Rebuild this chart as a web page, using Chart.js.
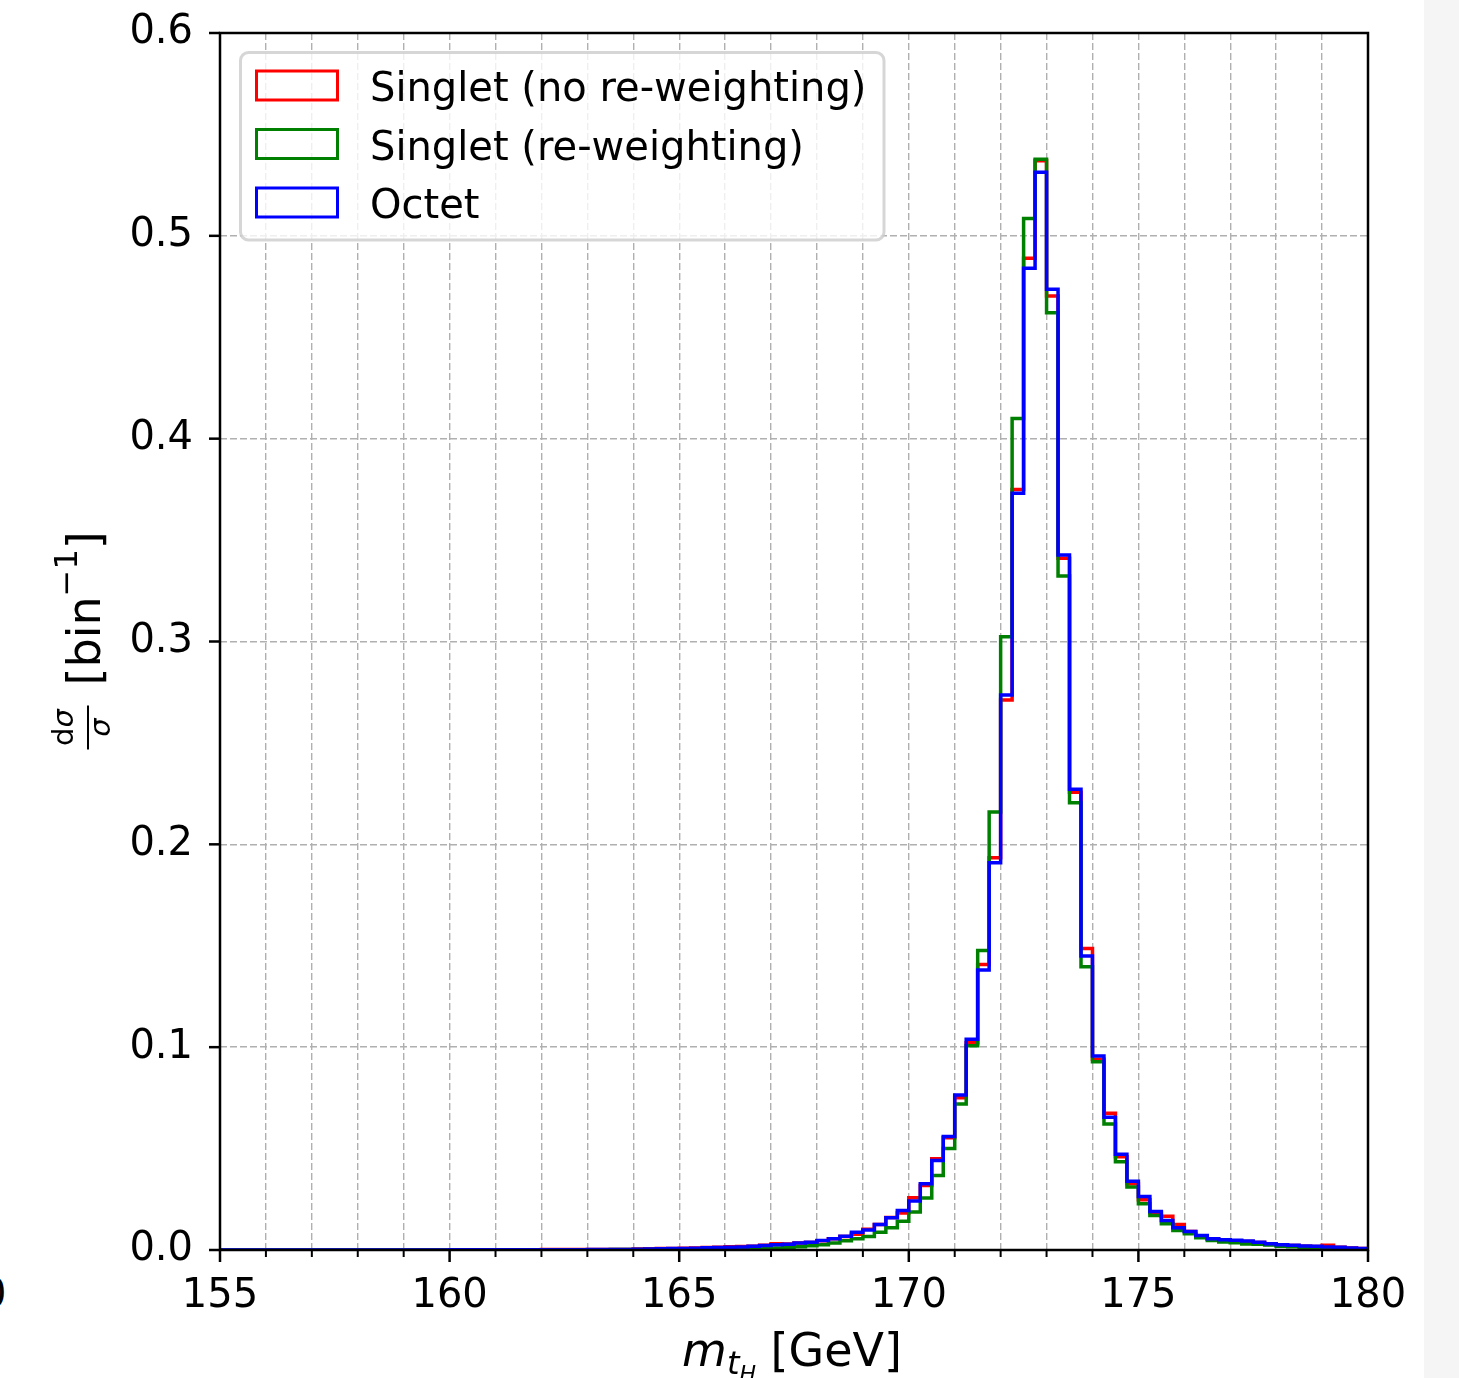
<!DOCTYPE html>
<html>
<head>
<meta charset="utf-8">
<script src="https://cdn.jsdelivr.net/npm/chart.js@4.4.1/dist/chart.umd.min.js"></script>
<style>
  body { margin: 0; background: #fff; }
  #wrap { position: relative; width: 1459px; height: 1378px; overflow: hidden; }
  #band { position: absolute; left: 1424px; top: 0; width: 35px; height: 1378px; background: #f5f5f5; }
  #stray { position: absolute; left: -19px; top: 1270px; font: 40px "DejaVu Sans"; }
  canvas { position: absolute; left: 0; top: 0; }
</style>
</head>
<body>
<div id="wrap">
  <div id="band"></div>
  <div id="stray">0</div>
  <canvas id="chart" width="1459" height="1378"></canvas>
</div>
<script>
// histogram: 100 bins of 0.25 GeV from 155 to 180
const binStart = 155, binWidth = 0.25, nBins = 100;
const binEdges = Array.from({ length: nBins + 1 }, (_, i) => binStart + i * binWidth);

const seriesLabels = ["Singlet (no re-weighting)", "Singlet (re-weighting)", "Octet"];
const seriesColors = ["#ff0000", "#008000", "#0000ff"];

// values, one per bin
const singletNoRw = [
  0,0,0,0, 0,0,0,0, 0,0,0,0, 0,0,0,0, 0,0,0,0,
  0.0001,0.0001,0.0001,0.0001, 0.0001,0.0001,0.0001,0.0001, 0.0002,0.0002,0.0002,0.0002, 0.0003,0.0003,0.0003,0.0003, 0.0005,0.0006,0.0007,0.0008,
  0.0009,0.0010,0.0012,0.0013, 0.0016,0.0017,0.0019,0.0023, 0.0031,0.0030,0.0034,0.0037, 0.0046,0.0055,0.0067,0.0078, 0.0102,0.0126,0.0160,0.0182,
  0.0257,0.0318,0.0450,0.0554, 0.0751,0.1022,0.1408,0.1934, 0.2712,0.3750,0.4889,0.5370, 0.4703,0.3410,0.2257,0.1487, 0.0940,0.0674,0.0460,0.0327,
  0.0248,0.0182,0.0167,0.0126, 0.0091,0.0068,0.0053,0.0048, 0.0045,0.0042,0.0037,0.0030, 0.0025,0.0022,0.0019,0.0017, 0.0023,0.0013,0.0010,0.0008
];
const singletRw = [
  0,0,0,0, 0,0,0,0, 0,0,0,0, 0,0,0,0, 0,0,0,0,
  0,0,0,0, 0,0,0,0, 0.0001,0.0001,0.0001,0.0001, 0.0001,0.0001,0.0002,0.0002, 0.0002,0.0002,0.0003,0.0003,
  0.0003,0.0003,0.0004,0.0004, 0.0005,0.0006,0.0007,0.0008, 0.0010,0.0013,0.0016,0.0021, 0.0026,0.0035,0.0045,0.0055, 0.0067,0.0088,0.0110,0.0142,
  0.0187,0.0256,0.0367,0.0501, 0.0720,0.1007,0.1476,0.2159, 0.3024,0.4100,0.5086,0.5377, 0.4621,0.3323,0.2205,0.1397, 0.0928,0.0621,0.0435,0.0310,
  0.0228,0.0170,0.0129,0.0096, 0.0080,0.0060,0.0047,0.0039, 0.0036,0.0030,0.0028,0.0025, 0.0018,0.0016,0.0010,0.0009, 0.0008,0.0007,0.0006,0.0005
];
const octet = [
  0,0,0,0, 0,0,0,0, 0,0,0,0, 0,0,0,0, 0,0,0,0,
  0.0001,0.0001,0.0001,0.0001, 0.0001,0.0001,0.0001,0.0001, 0.0001,0.0001,0.0001,0.0001, 0.0002,0.0002,0.0002,0.0002, 0.0004,0.0005,0.0006,0.0007,
  0.0008,0.0009,0.0011,0.0012, 0.0014,0.0015,0.0019,0.0022, 0.0026,0.0028,0.0034,0.0038, 0.0047,0.0055,0.0068,0.0088, 0.0099,0.0126,0.0159,0.0195,
  0.0241,0.0327,0.0441,0.0559, 0.0764,0.1039,0.1380,0.1909, 0.2736,0.3731,0.4840,0.5313, 0.4737,0.3427,0.2271,0.1450, 0.0956,0.0654,0.0472,0.0339,
  0.0264,0.0190,0.0146,0.0110, 0.0091,0.0072,0.0055,0.0050, 0.0048,0.0044,0.0038,0.0031, 0.0026,0.0024,0.0020,0.0018, 0.0015,0.0013,0.0010,0.0008
];

const yTicks = [0, 0.1, 0.2, 0.3, 0.4, 0.5, 0.6];
const xMajorTicks = [155, 160, 165, 170, 175, 180];

// step outline like matplotlib histtype="step"
function toSteps(vals) {
  const pts = [{ x: binEdges[0], y: 0 }];
  vals.forEach((v, i) => pts.push({ x: binEdges[i], y: v }));
  pts.push({ x: binEdges[nBins], y: vals[nBins - 1] });
  pts.push({ x: binEdges[nBins], y: 0 });
  return pts;
}

const FONT = '"DejaVu Sans"';
Chart.defaults.font.family = "DejaVu Sans";
Chart.defaults.color = "#000";

function noPad(s) {
  s.paddingTop = 0; s.paddingBottom = 0; s.paddingLeft = 0; s.paddingRight = 0;
}

// spines, tick marks, legend and axis titles (matplotlib look)
const decor = {
  id: "decor",
  afterDraw(chart) {
    const { ctx, chartArea: a, scales: { x, y } } = chart;
    ctx.save();
    ctx.strokeStyle = "#000";
    // ticks
    for (let v = 155; v <= 180; v++) {
      const px = x.getPixelForValue(v);
      const len = xMajorTicks.includes(v) ? 12 : 7;
      ctx.lineWidth = xMajorTicks.includes(v) ? 2.5 : 2;
      ctx.beginPath(); ctx.moveTo(px, a.bottom); ctx.lineTo(px, a.bottom + len); ctx.stroke();
    }
    ctx.lineWidth = 2.5;
    yTicks.forEach(v => {
      const py = y.getPixelForValue(v);
      ctx.beginPath(); ctx.moveTo(a.left - 11, py); ctx.lineTo(a.left, py); ctx.stroke();
    });
    // spines
    ctx.lineWidth = 2.5;
    ctx.strokeRect(a.left, a.top, a.right - a.left, a.bottom - a.top);

    // legend
    const lx = 240.5, ly = 52.5, lw = 643.5, lh = 187.5;
    ctx.beginPath();
    ctx.roundRect(lx, ly, lw, lh, 8);
    ctx.fillStyle = "rgba(255,255,255,0.8)";
    ctx.fill();
    ctx.strokeStyle = "rgba(204,204,204,0.8)";
    ctx.lineWidth = 3;
    ctx.stroke();
    ctx.font = "40px " + FONT;
    ctx.textBaseline = "alphabetic";
    ctx.textAlign = "left";
    ctx.fillStyle = "#000";
    seriesLabels.forEach((lab, i) => {
      const top = 71 + i * 58.5;
      ctx.strokeStyle = seriesColors[i];
      ctx.lineWidth = 3;
      ctx.strokeRect(256.5, top, 81, 29);
      ctx.fillText(lab, 370, top + 30);
    });

    // x title: m_{t_H} [GeV]
    const xparts = [
      { t: "m", f: "italic 46px " + FONT, dy: 0 },
      { t: "t", f: "italic 32px " + FONT, dy: 8 },
      { t: "H", f: "italic 22px " + FONT, dy: 15 },
      { t: " [GeV]", f: "46px " + FONT, dy: 0 }
    ];
    let tw = 0;
    xparts.forEach(p => { ctx.font = p.f; p.w = ctx.measureText(p.t).width; tw += p.w; });
    let cx = (a.left + a.right) / 2 - tw / 2 - 2;
    xparts.forEach(p => { ctx.font = p.f; ctx.fillText(p.t, cx, 1366 + p.dy); cx += p.w; });

    // y title: dσ/σ [bin^-1], rotated
    ctx.translate(100, (a.top + a.bottom) / 2);
    ctx.rotate(-Math.PI / 2);
    const fracC = -86;
    ctx.font = "29px " + FONT;
    const dW = ctx.measureText("d").width;
    ctx.font = "italic 29px " + FONT;
    const sW = ctx.measureText("σ").width;
    ctx.textAlign = "left";
    ctx.font = "29px " + FONT;
    ctx.fillText("d", fracC - (dW + sW) / 2, -27);
    ctx.font = "italic 29px " + FONT;
    ctx.fillText("σ", fracC - (dW + sW) / 2 + dW, -27);
    ctx.textAlign = "center";
    ctx.fillText("σ", fracC, 10);
    ctx.fillRect(fracC - 22, -13, 44, 2);
    ctx.textAlign = "left";
    let u = -44;
    ctx.font = "46px " + FONT;
    ctx.fillText("[bin", u, 0); u += ctx.measureText("[bin").width;
    ctx.font = "32px " + FONT;
    ctx.fillText("\u22121", u, -23); u += ctx.measureText("\u22121").width;
    ctx.font = "46px " + FONT;
    ctx.fillText("]", u, 0);
    ctx.restore();
  }
};

new Chart(document.getElementById("chart"), {
  type: "line",
  data: {
    datasets: [
      { label: seriesLabels[0], data: toSteps(singletNoRw), borderColor: seriesColors[0], order: 3 },
      { label: seriesLabels[1], data: toSteps(singletRw), borderColor: seriesColors[1], order: 2 },
      { label: seriesLabels[2], data: toSteps(octet), borderColor: seriesColors[2], order: 1 }
    ]
  },
  options: {
    responsive: false,
    animation: false,
    events: [],
    elements: {
      line: { borderWidth: 3.5, stepped: "before", tension: 0, fill: false, borderJoinStyle: "miter", borderCapStyle: "butt" },
      point: { radius: 0 }
    },
    layout: { padding: { left: 0, top: 33, right: 91, bottom: 0 } },
    plugins: { legend: { display: false }, tooltip: { enabled: false } },
    scales: {
      x: {
        type: "linear", min: 155, max: 180,
        afterFit: s => { s.height = 128; noPad(s); },
        border: { display: false, dash: [7, 3] },
        grid: { color: "#b0b0b0", lineWidth: 1.4, drawTicks: false, borderDash: [7, 3] },
        ticks: {
          stepSize: 1, autoSkip: false, maxRotation: 0, padding: 23,
          font: { size: 40 },
          callback: v => (v % 5 === 0 ? String(v) : "")
        }
      },
      y: {
        min: 0, max: 0.6,
        afterFit: s => { s.width = 220; noPad(s); },
        border: { display: false, dash: [7, 3] },
        grid: { color: "#b0b0b0", lineWidth: 1.4, drawTicks: false, borderDash: [7, 3] },
        ticks: {
          stepSize: 0.1, padding: 27,
          font: { size: 40 },
          callback: v => v.toFixed(1)
        }
      }
    }
  },
  plugins: [decor]
});
</script>
</body>
</html>
